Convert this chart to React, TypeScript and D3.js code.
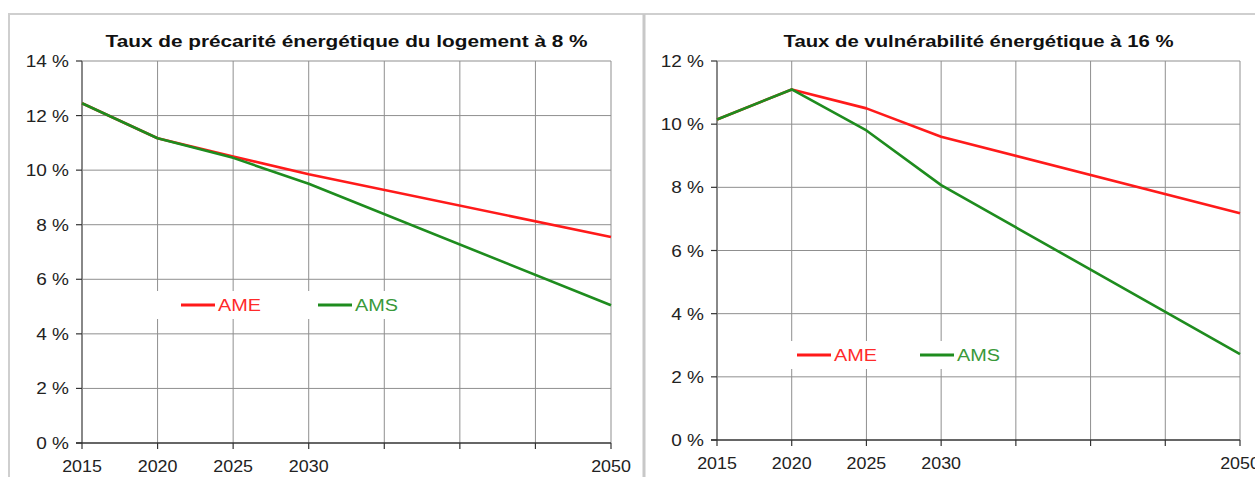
import { useEffect, useRef } from "react";
import * as d3 from "d3";

// Data years (labelled ticks) and all grid years
const years = [2015, 2020, 2025, 2030, 2050];
const gridYears = [2015, 2020, 2025, 2030, 2035, 2040, 2045, 2050];

// Left panel: taux de précarité énergétique du logement à 8 %
const precariteAME = [12.45, 11.17, 10.5, 9.85, 7.55];
const precariteAMS = [12.45, 11.17, 10.45, 9.5, 5.05];
const precariteTicks = [0, 2, 4, 6, 8, 10, 12, 14];

// Right panel: taux de vulnérabilité énergétique à 16 %
const vulnerabiliteAME = [10.15, 11.1, 10.5, 9.6, 7.18];
const vulnerabiliteAMS = [10.15, 11.1, 9.8, 8.07, 2.72];
const vulnerabiliteTicks = [0, 2, 4, 6, 8, 10, 12];

const seriesNames = ["AME", "AMS"];
const RED = "#ff1a1a";
const GREEN = "#1e8c1e";
const FONT = "'Liberation Sans', Arial, sans-serif";

type Panel = {
	title: string;
	titleWidth: number;
	ame: number[];
	ams: number[];
	ticks: number[];
	left: number;
	right: number;
	top: number;
	bottom: number;
	legend: { x: number; y: number; w: number; gap: number };
};

const panels: Panel[] = [
	{
		title: "Taux de précarité énergétique du logement à 8 %",
		titleWidth: 482,
		ame: precariteAME,
		ams: precariteAMS,
		ticks: precariteTicks,
		left: 82, right: 611, top: 61, bottom: 443,
		legend: { x: 181, y: 305, w: 236, gap: 137 }
	},
	{
		title: "Taux de vulnérabilité énergétique à 16 %",
		titleWidth: 390,
		ame: vulnerabiliteAME,
		ams: vulnerabiliteAMS,
		ticks: vulnerabiliteTicks,
		left: 717, right: 1240, top: 61, bottom: 440,
		legend: { x: 797, y: 355, w: 222, gap: 123 }
	}
];

export default function App() {
	const ref = useRef<SVGSVGElement>(null);

	useEffect(() => {
		const svg = d3.select(ref.current);
		svg.selectAll("*").remove();

		// Panel borders
		svg.append("line").attr("x1", 8).attr("x2", 1255).attr("y1", 14).attr("y2", 14)
			.attr("stroke", "#cfcfcf").attr("stroke-width", 2);
		svg.append("line").attr("x1", 9).attr("x2", 9).attr("y1", 14).attr("y2", 477)
			.attr("stroke", "#cfcfcf").attr("stroke-width", 2);
		svg.append("line").attr("x1", 644).attr("x2", 644).attr("y1", 14).attr("y2", 477)
			.attr("stroke", "#c8c8c8").attr("stroke-width", 3);

		panels.forEach(p => {
			const g = svg.append("g");
			const maxY = d3.max(p.ticks)!;

			const x = d3.scaleLinear().domain([2015, 2050]).range([p.left, p.right]);
			const y = d3.scaleLinear().domain([0, maxY]).range([p.bottom, p.top]);

			// Grid
			g.selectAll(".vgrid").data(gridYears.slice(1)).enter().append("line")
				.attr("x1", d => x(d)).attr("x2", d => x(d))
				.attr("y1", p.top).attr("y2", p.bottom)
				.attr("stroke", "#8f8f8f").attr("stroke-width", 1);
			g.selectAll(".hgrid").data(p.ticks.slice(1)).enter().append("line")
				.attr("x1", p.left).attr("x2", p.right)
				.attr("y1", d => y(d)).attr("y2", d => y(d))
				.attr("stroke", "#8f8f8f").attr("stroke-width", 1);

			// Legend box hides the grid behind it
			g.append("rect")
				.attr("x", p.legend.x - 27).attr("y", p.legend.y - 14)
				.attr("width", p.legend.w).attr("height", 28)
				.attr("fill", "#fff");

			// Axes
			g.append("line").attr("x1", p.left).attr("x2", p.left)
				.attr("y1", p.top).attr("y2", p.bottom)
				.attr("stroke", "#888").attr("stroke-width", 2);
			g.append("line").attr("x1", p.left - 6).attr("x2", p.right)
				.attr("y1", p.bottom).attr("y2", p.bottom)
				.attr("stroke", "#333").attr("stroke-width", 1.5);

			g.selectAll(".ytick").data(p.ticks).enter().append("line")
				.attr("x1", p.left - 6).attr("x2", p.left)
				.attr("y1", d => y(d)).attr("y2", d => y(d))
				.attr("stroke", "#333").attr("stroke-width", 1.2);
			g.selectAll(".xtick").data(gridYears).enter().append("line")
				.attr("x1", d => x(d)).attr("x2", d => x(d))
				.attr("y1", p.bottom).attr("y2", p.bottom + 6)
				.attr("stroke", "#333").attr("stroke-width", 1.2);

			g.selectAll(".ylabel").data(p.ticks).enter().append("text")
				.attr("transform", d => `translate(${p.left - 13},${y(d) + 6}) scale(1.12,1)`)
				.attr("text-anchor", "end")
				.attr("font-family", FONT).attr("font-size", 17)
				.attr("fill", "#222")
				.text(d => `${d} %`);
			g.selectAll(".xlabel").data(years).enter().append("text")
				.attr("transform", d => `translate(${x(d)},${p.bottom + 29}) scale(1.05,1)`)
				.attr("text-anchor", "middle")
				.attr("font-family", FONT).attr("font-size", 17)
				.attr("fill", "#222")
				.text(d => d);

			// Title
			g.append("text")
				.attr("x", (p.left + p.right) / 2).attr("y", 47)
				.attr("text-anchor", "middle")
				.attr("font-family", FONT).attr("font-size", 16).attr("font-weight", "bold")
				.attr("fill", "#111")
				.attr("textLength", p.titleWidth).attr("lengthAdjust", "spacingAndGlyphs")
				.text(p.title);

			// Lines
			const line = d3.line<number>()
				.x((_, i) => x(years[i]))
				.y(d => y(d));
			[p.ame, p.ams].forEach((vals, k) => {
				g.append("path")
					.attr("d", line(vals))
					.attr("fill", "none")
					.attr("stroke", k === 0 ? RED : GREEN)
					.attr("stroke-width", 2.6)
					.attr("stroke-linejoin", "round");
			});

			// Legend
			seriesNames.forEach((name, k) => {
				const lx = p.legend.x + k * p.legend.gap;
				const color = k === 0 ? RED : GREEN;
				g.append("line")
					.attr("x1", lx).attr("x2", lx + 34)
					.attr("y1", p.legend.y).attr("y2", p.legend.y)
					.attr("stroke", color).attr("stroke-width", 3);
				g.append("text")
					.attr("x", lx + 37).attr("y", p.legend.y + 6)
					.attr("font-family", FONT).attr("font-size", 16)
					.attr("fill", k === 0 ? "#ff2a2a" : "#3a993a")
					.attr("textLength", 43).attr("lengthAdjust", "spacingAndGlyphs")
					.text(name);
			});
		});
	}, []);

	return (
		<svg
			ref={ref}
			width={1255}
			height={477}
			style={{ position: "absolute", left: 0, top: 0, background: "#fff" }}
		/>
	);
}
